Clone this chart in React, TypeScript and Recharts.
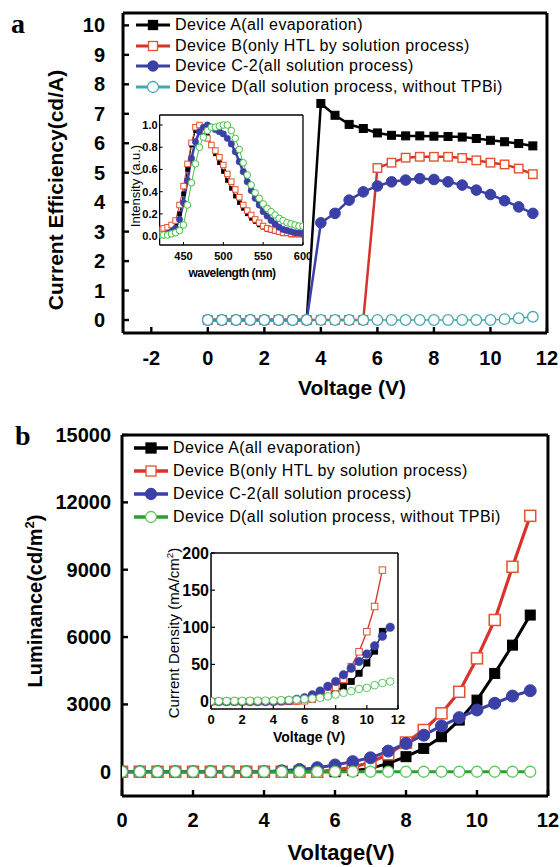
import React from "react";
import { Line, LineChart, XAxis, YAxis } from "recharts";

const FONT = '"Liberation Sans", Arial, Helvetica, sans-serif';
const SERIF = '"Liberation Serif", "Times New Roman", serif';

const BLACK = "#000000";
const RED = "#d8322a";
const RED_MK = "#e5522f";
const BLUE = "#3b40a6";
const CYAN = "#45a8b1";
const GREEN = "#2f9c32";
const GREEN_MK = "#5ec55e";
const GREEN_PL = "#45c045";

const NAMES = [
  "Device A(all evaporation)",
  "Device B(only HTL by solution process)",
  "Device C-2(all solution process)",
  "Device D(all solution process, without TPBi)",
];

// ---- panel a: current efficiency (cd/A) vs voltage ----
const VOLT = [0, 0.5, 1, 1.5, 2, 2.5, 3, 3.5, 4, 4.5, 5, 5.5, 6, 6.5, 7, 7.5, 8, 8.5, 9, 9.5, 10, 10.5, 11, 11.5];
const EFF_A = [0, 0, 0, 0, 0, 0, 0, 0, 7.35, 6.95, 6.64, 6.5, 6.35, 6.27, 6.25, 6.25, 6.24, 6.23, 6.21, 6.16, 6.1, 6.05, 5.99, 5.91];
const EFF_B = [0, 0, 0, 0, 0, 0, 0, 0, 0, 0, 0, 0, 5.16, 5.34, 5.51, 5.54, 5.54, 5.54, 5.5, 5.42, 5.34, 5.28, 5.14, 4.95];
const EFF_C = [0, 0, 0, 0, 0, 0, 0, 0, 3.3, 3.62, 4.07, 4.35, 4.55, 4.69, 4.75, 4.8, 4.77, 4.69, 4.58, 4.41, 4.26, 4.05, 3.84, 3.62];
const EFF_D = [0, 0, 0, 0, 0, 0, 0, 0, 0, 0, 0, 0, 0, 0, 0, 0, 0, 0, 0, 0, 0, 0.03, 0.06, 0.11];

// inset a: normalised EL spectra
const WAVELENGTH = [420, 425, 430, 435, 440, 445, 450, 455, 460, 465, 470, 475, 480, 485, 490, 495, 500, 505, 510, 515, 520, 525, 530, 535, 540, 545, 550, 555, 560, 565, 570, 575, 580, 585, 590, 595, 600];
const PL_A = [0.02, 0.03, 0.04, 0.06, 0.09, 0.2, 0.38, 0.6, 0.82, 0.95, 1.0, 0.98, 0.9, 0.82, 0.74, 0.66, 0.58, 0.5, 0.43, 0.36, 0.3, 0.25, 0.2, 0.16, 0.13, 0.1, 0.08, 0.06, 0.05, 0.04, 0.03, 0.02, 0.02, 0.01, 0.01, 0.01, 0.01];
const PL_B = [0.06, 0.07, 0.08, 0.1, 0.14, 0.28, 0.45, 0.65, 0.84, 0.98, 1.0, 0.95, 0.88, 0.82, 0.77, 0.71, 0.64, 0.56, 0.49, 0.42, 0.35, 0.28, 0.23, 0.19, 0.15, 0.12, 0.09, 0.07, 0.06, 0.05, 0.04, 0.03, 0.03, 0.02, 0.02, 0.02, 0.02];
const PL_C = [0.01, 0.01, 0.02, 0.04, 0.07, 0.15, 0.3, 0.5, 0.7, 0.85, 0.94, 0.98, 1.0, 0.98, 0.96, 0.94, 0.92, 0.88, 0.83, 0.76, 0.67, 0.58, 0.49, 0.41, 0.34, 0.28, 0.22, 0.18, 0.14, 0.11, 0.08, 0.06, 0.05, 0.04, 0.03, 0.03, 0.02];
const PL_D = [0.01, 0.01, 0.01, 0.02, 0.03, 0.05, 0.1, 0.28, 0.48, 0.65, 0.8, 0.89, 0.95, 0.98, 0.98, 0.99, 1.0, 1.0, 0.95, 0.88, 0.78, 0.66, 0.55, 0.46, 0.39, 0.34, 0.29, 0.25, 0.22, 0.19, 0.16, 0.14, 0.12, 0.11, 0.1, 0.09, 0.09];

// ---- panel b: luminance (cd/m2) vs voltage ----
const LUM_A = [0, 0, 0, 0, 0, 0, 0, 0, 0, 0, 0, 0, 0, 50, 150, 370, 670, 1040, 1560, 2300, 3190, 4380, 5640, 6980];
const LUM_B = [0, 0, 0, 0, 0, 0, 0, 0, 0, 0, 0, 0, 80, 200, 420, 780, 1300, 1860, 2600, 3560, 5050, 6760, 9130, 11400];
const LUM_C = [0, 0, 0, 0, 0, 0, 0, 0, 0, 40, 100, 180, 300, 450, 620, 920, 1260, 1630, 2040, 2410, 2750, 3050, 3370, 3610];
const LUM_D = [0, 0, 0, 0, 0, 0, 0, 0, 0, 0, 0, 0, 0, 0, 0, 0, 0, 0, 0, 0, 0, 0, 0, 0];

// inset b: current density (mA/cm2)
const J_A = [0, 0, 0, 0, 0, 0, 0, 0, 0.2, 0.5, 0.8, 1.2, 1.8, 3, 5.5, 9, 14, 20, 27, 38, 52, 68, 94.5, null];
const J_B = [0, 0, 0, 0, 0, 0, 0, 0, 0, 0, 0.3, 0.6, 1, 3, 6, 11, 19, 30, 47, 67, 94, 128, 177, null];
const J_C = [0, 0, 0, 0, 0, 0, 0, 0, 0, 0.8, 1.5, 3, 5, 9, 14, 20.5, 27, 36, 45, 54, 64, 75, 88, 100];
const J_D = [0.5, 0.6, 0.7, 0.8, 0.9, 1, 1.1, 1.3, 1.5, 1.8, 2, 2.5, 3.3, 4, 5, 7, 9.4, 11.7, 14, 17, 18.4, 22, 25, 27];

const effData = VOLT.map((v, i) => ({ v, a: EFF_A[i], b: EFF_B[i], c: EFF_C[i], d: EFF_D[i] }));
const plData = WAVELENGTH.map((v, i) => ({ v, a: PL_A[i], b: PL_B[i], c: PL_C[i], d: PL_D[i] }));
const lumData = VOLT.map((v, i) => ({ v, a: LUM_A[i], b: LUM_B[i], c: LUM_C[i], d: LUM_D[i] }));
const jData = VOLT.map((v, i) => ({ v, a: J_A[i], b: J_B[i], c: J_C[i], d: J_D[i] }));

function squareDot(size: number, fill: string, stroke: string, sw: number) {
  return (p: any) => {
    const { cx, cy, index } = p;
    if (cx == null || cy == null || p.value == null) return <g key={`sq${index}`} />;
    return (
      <rect key={`sq${index}`} x={cx - size / 2} y={cy - size / 2} width={size} height={size}
        fill={fill} stroke={stroke} strokeWidth={sw} />
    );
  };
}

interface FrameOpts {
  xDomain: [number, number];
  yDomain: [number, number];
  xTicks: number[];
  xMinor: number[];
  yTicks: number[];
  yMinor: number[];
  frame: number;
  major: number;
  minor: number;
  xGap: number;
  yGap: number;
  xFont: number;
  yFont: number;
  yFmt?: (v: number) => string;
}

// axes need a non-zero box or recharts skips them; keep it tiny so the plot box = margins
const THIN = 0.01;

// box frame with inward ticks on all four sides
function frameAxes(o: FrameOpts) {
  const axisLine = { stroke: "#000", strokeWidth: o.frame };
  const tickLine = { stroke: "#000", strokeWidth: Math.max(1, o.frame * 0.8) };
  const label = (size: number) => ({ fill: "#000", fontSize: size, fontWeight: 700, fontFamily: FONT });
  return [
    <XAxis key="xb" xAxisId={0} dataKey="v" type="number" domain={o.xDomain} allowDataOverflow ticks={o.xTicks}
      interval={0} height={THIN} axisLine={axisLine} tickLine={tickLine} tickSize={-o.major}
      tickMargin={o.major + o.xGap} tick={label(o.xFont)} />,
    <XAxis key="xbm" xAxisId="xbm" type="number" domain={o.xDomain} allowDataOverflow ticks={o.xMinor}
      interval={0} height={THIN} axisLine={false} tickLine={tickLine} tickSize={-o.minor} tick={false} />,
    <XAxis key="xt" xAxisId="xt" orientation="top" type="number" domain={o.xDomain} allowDataOverflow ticks={o.xTicks}
      interval={0} height={THIN} axisLine={axisLine} tickLine={tickLine} tickSize={-o.major} tick={false} />,
    <XAxis key="xtm" xAxisId="xtm" orientation="top" type="number" domain={o.xDomain} allowDataOverflow ticks={o.xMinor}
      interval={0} height={THIN} axisLine={false} tickLine={tickLine} tickSize={-o.minor} tick={false} />,
    <YAxis key="yl" yAxisId={0} type="number" domain={o.yDomain} allowDataOverflow ticks={o.yTicks}
      interval={0} width={THIN} axisLine={axisLine} tickLine={tickLine} tickSize={-o.major}
      tickMargin={o.major + o.yGap} tick={label(o.yFont)} tickFormatter={o.yFmt} />,
    <YAxis key="ylm" yAxisId="ylm" type="number" domain={o.yDomain} allowDataOverflow ticks={o.yMinor}
      interval={0} width={THIN} axisLine={false} tickLine={tickLine} tickSize={-o.minor} tick={false} />,
    <YAxis key="yr" yAxisId="yr" orientation="right" type="number" domain={o.yDomain} allowDataOverflow ticks={o.yTicks}
      interval={0} width={THIN} axisLine={axisLine} tickLine={tickLine} tickSize={-o.major} tick={false} />,
    <YAxis key="yrm" yAxisId="yrm" orientation="right" type="number" domain={o.yDomain} allowDataOverflow ticks={o.yMinor}
      interval={0} width={THIN} axisLine={false} tickLine={tickLine} tickSize={-o.minor} tick={false} />,
  ];
}

function Title({ x, y, size, rotate, weight = 700, spacing, children }: any) {
  return (
    <div style={{
      position: "absolute", left: x, top: y, whiteSpace: "nowrap", lineHeight: 1,
      transform: `translate(-50%, -50%)${rotate ? " rotate(-90deg)" : ""}`,
      fontFamily: FONT, fontSize: size, fontWeight: weight, letterSpacing: spacing, color: "#000",
    }}>
      {children}
    </div>
  );
}

interface LegendItem { name: string; color: string; lw: number; shape: "square" | "circle"; fill: string; stroke: string; size: number }

function LegendBox({ left, top, rowH, items }: { left: number; top: number; rowH: number; items: LegendItem[] }) {
  return (
    <div style={{ position: "absolute", left, top, fontFamily: FONT, fontSize: 16, letterSpacing: 0.4, color: "#000" }}>
      {items.map((it) => (
        <div key={it.name} style={{ display: "flex", alignItems: "center", height: rowH, whiteSpace: "nowrap" }}>
          <svg width={34} height={14} style={{ flex: "none" }}>
            <line x1={0} y1={7} x2={34} y2={7} stroke={it.color} strokeWidth={it.lw} />
            {it.shape === "square" ? (
              <rect x={17 - it.size / 2} y={7 - it.size / 2} width={it.size} height={it.size} fill={it.fill} stroke={it.stroke} strokeWidth={1.3} />
            ) : (
              <circle cx={17} cy={7} r={it.size / 2} fill={it.fill} stroke={it.stroke} strokeWidth={1.3} />
            )}
          </svg>
          <span style={{ marginLeft: 5 }}>{it.name}</span>
        </div>
      ))}
    </div>
  );
}

const LEGEND_A: LegendItem[] = [
  { name: NAMES[0], color: BLACK, lw: 3, shape: "square", fill: BLACK, stroke: BLACK, size: 9 },
  { name: NAMES[1], color: RED, lw: 3, shape: "square", fill: "#fff", stroke: RED_MK, size: 9 },
  { name: NAMES[2], color: BLUE, lw: 3, shape: "circle", fill: BLUE, stroke: BLUE, size: 10 },
  { name: NAMES[3], color: CYAN, lw: 3, shape: "circle", fill: "#fff", stroke: CYAN, size: 11 },
];
const LEGEND_B: LegendItem[] = [
  { name: NAMES[0], color: BLACK, lw: 3.5, shape: "square", fill: BLACK, stroke: BLACK, size: 10 },
  { name: NAMES[1], color: RED, lw: 3.5, shape: "square", fill: "#fff", stroke: RED_MK, size: 10 },
  { name: NAMES[2], color: BLUE, lw: 3.5, shape: "circle", fill: BLUE, stroke: BLUE, size: 11 },
  { name: NAMES[3], color: GREEN, lw: 3.5, shape: "circle", fill: "#fff", stroke: GREEN_MK, size: 11 },
];

const noAnim = { isAnimationActive: false, activeDot: false as const, type: "linear" as const };

export default function App() {
  return (
    <div style={{ position: "absolute", left: 0, top: 0, width: 560, height: 867, background: "#fff", overflow: "hidden" }}>
      {/* panel a */}
      <div style={{ position: "absolute", left: 0, top: 0 }}>
        <LineChart width={560} height={420} data={effData} margin={{ top: 13, right: 13, bottom: 87, left: 123 }}>
          {frameAxes({
            xDomain: [-3, 12], yDomain: [-0.44, 10.42],
            xTicks: [-2, 0, 2, 4, 6, 8, 10, 12], xMinor: [-1, 1, 3, 5, 7, 9, 11],
            yTicks: [0, 1, 2, 3, 4, 5, 6, 7, 8, 9, 10], yMinor: [0.5, 1.5, 2.5, 3.5, 4.5, 5.5, 6.5, 7.5, 8.5, 9.5],
            frame: 3, major: 6, minor: 3, xGap: 18, yGap: 18, xFont: 20, yFont: 20,
          })}
          <Line dataKey="a" stroke={BLACK} strokeWidth={2.5} dot={squareDot(8, BLACK, BLACK, 1)} {...noAnim} />
          <Line dataKey="b" stroke={RED} strokeWidth={2.5} dot={squareDot(8.5, "#fff", RED_MK, 1.4)} {...noAnim} />
          <Line dataKey="c" stroke={BLUE} strokeWidth={2.5} dot={{ r: 5.3, fill: BLUE, stroke: BLUE, strokeWidth: 1 }} {...noAnim} />
          <Line dataKey="d" stroke={CYAN} strokeWidth={1.5} dot={{ r: 5.3, fill: "#fff", stroke: CYAN, strokeWidth: 1.3 }} {...noAnim} />
        </LineChart>
      </div>

      {/* inset a: spectra */}
      <div style={{ position: "absolute", left: 100, top: 100 }}>
        <LineChart width={220} height={190} data={plData} margin={{ top: 15, right: 17, bottom: 45, left: 59.6 }}>
          {frameAxes({
            xDomain: [420, 600], yDomain: [-0.08, 1.09],
            xTicks: [450, 500, 550, 600], xMinor: [425, 475, 525, 575],
            yTicks: [0, 0.2, 0.4, 0.6, 0.8, 1.0], yMinor: [0.1, 0.3, 0.5, 0.7, 0.9],
            frame: 1.3, major: 3, minor: 2, xGap: 7, yGap: 2, xFont: 11, yFont: 11,
            yFmt: (v: number) => v.toFixed(1),
          })}
          <Line dataKey="a" stroke={BLACK} strokeWidth={1} dot={squareDot(4, BLACK, BLACK, 0.5)} {...noAnim} />
          <Line dataKey="b" stroke={RED} strokeWidth={1} dot={squareDot(5.5, "#fff", RED_MK, 1)} {...noAnim} />
          <Line dataKey="c" stroke={BLUE} strokeWidth={2.5} dot={{ r: 3.2, fill: BLUE, stroke: BLUE, strokeWidth: 0.5 }} {...noAnim} />
          <Line dataKey="d" stroke={GREEN_PL} strokeWidth={1} dot={{ r: 3.3, fill: "#fff", stroke: GREEN_PL, strokeWidth: 1 }} {...noAnim} />
        </LineChart>
      </div>

      {/* panel b */}
      <div style={{ position: "absolute", left: 0, top: 420 }}>
        <LineChart width={560} height={447} data={lumData} margin={{ top: 15, right: 12, bottom: 71, left: 122 }}>
          {frameAxes({
            xDomain: [0, 12], yDomain: [-1080, 15000],
            xTicks: [0, 2, 4, 6, 8, 10, 12], xMinor: [1, 3, 5, 7, 9, 11],
            yTicks: [0, 3000, 6000, 9000, 12000, 15000], yMinor: [1500, 4500, 7500, 10500, 13500],
            frame: 3, major: 6, minor: 4, xGap: 17, yGap: 11, xFont: 20, yFont: 20,
          })}
          <Line dataKey="a" stroke={BLACK} strokeWidth={3} dot={squareDot(10, BLACK, BLACK, 1)} {...noAnim} />
          <Line dataKey="b" stroke={RED} strokeWidth={3.2} dot={squareDot(11, "#fff", RED_MK, 1.5)} {...noAnim} />
          <Line dataKey="c" stroke={BLUE} strokeWidth={3} dot={{ r: 6, fill: BLUE, stroke: BLUE, strokeWidth: 1 }} {...noAnim} />
          <Line dataKey="d" stroke={GREEN} strokeWidth={3} dot={{ r: 5.5, fill: "#fff", stroke: GREEN_MK, strokeWidth: 1.3 }} {...noAnim} />
        </LineChart>
      </div>

      {/* inset b: current density */}
      <div style={{ position: "absolute", left: 150, top: 530 }}>
        <LineChart width={270} height={220} data={jData} margin={{ top: 23, right: 22, bottom: 41, left: 61 }}>
          {frameAxes({
            xDomain: [0, 12], yDomain: [-10, 200],
            xTicks: [0, 2, 4, 6, 8, 10, 12], xMinor: [1, 3, 5, 7, 9, 11],
            yTicks: [0, 50, 100, 150, 200], yMinor: [25, 75, 125, 175],
            frame: 1.5, major: 4, minor: 2.5, xGap: 6, yGap: 2, xFont: 13, yFont: 16,
          })}
          <Line dataKey="a" stroke={BLACK} strokeWidth={1.3} dot={squareDot(6.5, BLACK, BLACK, 0.5)} {...noAnim} />
          <Line dataKey="b" stroke={RED} strokeWidth={1.3} dot={squareDot(6.5, "#fff", RED_MK, 1)} {...noAnim} />
          <Line dataKey="c" stroke={BLUE} strokeWidth={1.3} dot={{ r: 4.3, fill: BLUE, stroke: BLUE, strokeWidth: 0.5 }} {...noAnim} />
          <Line dataKey="d" stroke={GREEN} strokeWidth={1.3} dot={{ r: 3.8, fill: "#fff", stroke: GREEN_MK, strokeWidth: 1 }} {...noAnim} />
        </LineChart>
      </div>

      <LegendBox left={136} top={14.6} rowH={20.7} items={LEGEND_A} />
      <LegendBox left={134} top={436.5} rowH={23} items={LEGEND_B} />

      <div style={{ position: "absolute", left: 11, top: 9.6, fontFamily: SERIF, fontWeight: 700, fontSize: 28, lineHeight: "28px" }}>a</div>
      <div style={{ position: "absolute", left: 15, top: 421.6, fontFamily: SERIF, fontWeight: 700, fontSize: 28, lineHeight: "28px" }}>b</div>

      <Title x={55} y={190} size={21} rotate>Current Efficiency(cd/A)</Title>
      <Title x={352} y={387} size={21}>Voltage (V)</Title>
      <Title x={135} y={186} size={13} rotate weight={400}>Intensity (a.u.)</Title>
      <Title x={232} y={273} size={12} spacing={-0.5}>wavelength (nm)</Title>

      <Title x={34} y={601} size={20} rotate>
        Luminance(cd/m<span style={{ fontSize: "0.65em", verticalAlign: "super" }}>2</span>)
      </Title>
      <Title x={341} y={853} size={22}>Voltage(V)</Title>
      <Title x={173} y={633} size={15} rotate weight={400}>
        Current Density (mA/cm<span style={{ fontSize: "0.65em", verticalAlign: "super" }}>2</span>)
      </Title>
      <Title x={309} y={737} size={14}>Voltage (V)</Title>
    </div>
  );
}
